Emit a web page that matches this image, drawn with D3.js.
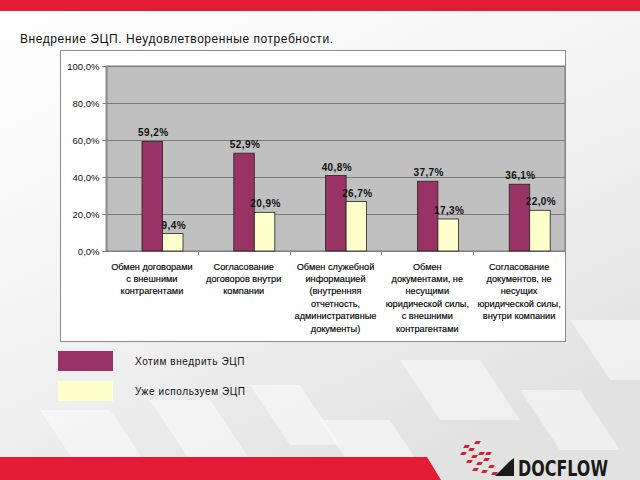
<!DOCTYPE html>
<html>
<head>
<meta charset="utf-8">
<script src="https://cdn.jsdelivr.net/npm/d3@7"></script>
<style>
  html, body { margin: 0; padding: 0; background: #fff; }
  svg { display: block; font-family: "Liberation Sans", Arial, sans-serif; }
</style>
</head>
<body>
<svg id="chart" width="640" height="480"></svg>
<script>
// chart data
const categories = [
  ["Обмен договорами", "с внешними", "контрагентами"],
  ["Согласование", "договоров внутри", "компании"],
  ["Обмен служебной", "информацией", "(внутренняя", "отчетность,", "административные", "документы)"],
  ["Обмен", "документами, не", "несущими", "юридической силы,", "с внешними", "контрагентами"],
  ["Согласование", "документов, не", "несущих", "юридической силы,", "внутри компании"]
];
const seriesNames = ["Хотим внедрить ЭЦП", "Уже используем ЭЦП"];
const seriesColors = ["#993366", "#ffffcc"];
const wantValues = [59.2, 52.9, 40.8, 37.7, 36.1];
const useValues = [9.4, 20.9, 26.7, 17.3, 22.0];
const yTicks = [0, 20, 40, 60, 80, 100];

const svg = d3.select("#chart");

// slide background
const defs = svg.append("defs");
const bg = defs.append("linearGradient").attr("id", "bg")
  .attr("x1", "0").attr("y1", "0").attr("x2", "0.6").attr("y2", "1");
bg.append("stop").attr("offset", "0").attr("stop-color", "#ffffff");
bg.append("stop").attr("offset", "0.5").attr("stop-color", "#f4f4f4");
bg.append("stop").attr("offset", "1").attr("stop-color", "#e2e2e2");
svg.append("rect").attr("width", 640).attr("height", 480).attr("fill", "url(#bg)");

// light diagonal stripes in the lower part
const stripes = [[40, 410, 70], [150, 400, 60], [250, 385, 50], [320, 420, 70], [400, 360, 80], [520, 390, 60], [570, 320, 70]];
stripes.forEach(function(s){
  svg.append("path")
    .attr("d", "M" + s[0] + "," + s[1] + " l" + s[2] + ",0 l40,60 l-" + s[2] + ",0 z")
    .attr("fill", "#ffffff").attr("opacity", 0.45);
});

// red bands
svg.append("rect").attr("x", 0).attr("y", 0).attr("width", 640).attr("height", 11).attr("fill", "#e31b35");
svg.append("path").attr("d", "M0,457 L427,457 L441,480 L0,480 Z").attr("fill", "#e31b35");

// title
svg.append("text")
  .attr("x", 20).attr("y", 43)
  .attr("font-size", 12)
  .attr("textLength", 313).attr("lengthAdjust", "spacing")
  .attr("fill", "#111")
  .text("Внедрение ЭЦП. Неудовлетворенные потребности.");

// chart box
svg.append("rect")
  .attr("x", 60.5).attr("y", 50.5).attr("width", 505).attr("height", 291)
  .attr("fill", "#ffffff").attr("stroke", "#8c8c8c");

const plot = {left: 106, right: 565, top: 66, bottom: 251};

const y = d3.scaleLinear().domain([0, 100]).range([plot.bottom, plot.top]);
const x0 = d3.scaleBand().domain(d3.range(categories.length)).range([plot.left, plot.right]);
const x1 = d3.scaleBand().domain(seriesNames).range([36, 77]);

svg.append("rect")
  .attr("x", plot.left).attr("y", plot.top)
  .attr("width", plot.right - plot.left).attr("height", plot.bottom - plot.top)
  .attr("fill", "#c0c0c0").attr("stroke", "#808080");

// gridlines
svg.append("g").selectAll("line").data(yTicks.slice(1))
  .join("line")
  .attr("x1", plot.left).attr("x2", plot.right)
  .attr("y1", d => Math.round(y(d)) + 0.5).attr("y2", d => Math.round(y(d)) + 0.5)
  .attr("stroke", "#7a7a7a");

// y axis
const yAxis = svg.append("g")
  .attr("transform", "translate(" + (plot.left + 0.5) + ",0)")
  .call(d3.axisLeft(y).tickValues(yTicks).tickSize(4).tickPadding(3)
    .tickFormat(d => d.toFixed(1).replace(".", ",") + "%"));
yAxis.select(".domain").attr("stroke", "#808080");
yAxis.selectAll(".tick line").attr("stroke", "#808080");
yAxis.selectAll("text").attr("font-size", 9.5).attr("fill", "#111")
  .attr("font-family", "Liberation Sans, Arial, sans-serif");

// x axis baseline and tick marks between categories
svg.append("line")
  .attr("x1", plot.left).attr("x2", plot.right)
  .attr("y1", plot.bottom + 0.5).attr("y2", plot.bottom + 0.5)
  .attr("stroke", "#808080");
svg.append("g").selectAll("line").data(d3.range(1, categories.length + 1))
  .join("line")
  .attr("x1", d => Math.round(plot.left + d * x0.step()) + 0.5)
  .attr("x2", d => Math.round(plot.left + d * x0.step()) + 0.5)
  .attr("y1", plot.bottom).attr("y2", plot.bottom + 4)
  .attr("stroke", "#808080");

// bars
const rows = seriesNames.map((name, s) => ({
  name: name,
  color: seriesColors[s],
  values: s === 0 ? wantValues : useValues
}));

const groups = svg.append("g").selectAll("g").data(rows).join("g");
groups.selectAll("rect").data(r => r.values.map((v, i) => ({v: v, i: i, r: r})))
  .join("rect")
  .attr("x", d => x0(d.i) + x1(d.r.name))
  .attr("y", d => y(d.v))
  .attr("width", x1.bandwidth())
  .attr("height", d => y(0) - y(d.v))
  .attr("fill", d => d.r.color)
  .attr("stroke", "#222").attr("stroke-width", 0.8);

// value labels
groups.selectAll("text").data(r => r.values.map((v, i) => ({v: v, i: i, r: r})))
  .join("text")
  .attr("x", d => x0(d.i) + x1(d.r.name) + x1.bandwidth() / 2 + 1)
  .attr("y", d => y(d.v) - 5)
  .attr("text-anchor", "middle")
  .attr("font-size", 10).attr("font-weight", "bold")
  .attr("letter-spacing", 0.4)
  .attr("fill", "#111")
  .text(d => d.v.toFixed(1).replace(".", ",") + "%");

// category labels
svg.append("g").selectAll("text").data(categories)
  .join("text")
  .attr("text-anchor", "middle")
  .attr("font-size", 9.2)
  .attr("fill", "#000")
  .attr("stroke", "#000").attr("stroke-width", 0.15)
  .each(function(lines, i){
    d3.select(this).selectAll("tspan").data(lines).join("tspan")
      .attr("x", x0(i) + x0.bandwidth() / 2)
      .attr("y", (d, k) => 269.5 + k * 12.4)
      .text(d => d);
  });

// legend
const legend = svg.append("g").selectAll("g").data(rows).join("g")
  .attr("transform", (d, i) => "translate(58," + (351 + i * 30) + ")");
legend.append("rect")
  .attr("width", 55).attr("height", 20)
  .attr("fill", d => d.color);
legend.append("text")
  .attr("x", 77).attr("y", 14)
  .attr("font-size", 10)
  .attr("letter-spacing", 0.6)
  .attr("fill", "#111")
  .text(d => d.name);

// DOCFLOW logo
const pixels = [[465, 445], [470, 448], [462, 452], [473, 455], [480, 452], [468, 460],
  [478, 462], [485, 458], [490, 465], [474, 468], [483, 470], [493, 472], [487, 452], [476, 441]];
svg.append("g").selectAll("rect").data(pixels).join("rect")
  .attr("x", d => d[0]).attr("y", d => d[1])
  .attr("width", 5).attr("height", 3)
  .attr("transform", d => "skewX(-30) translate(" + (d[1] * 0.577) + ",0)")
  .attr("fill", "#d4202f");
svg.append("path").attr("d", "M495,476 L510,461 L514,458 L514,476 Z").attr("fill", "#1a1a1a");
svg.append("text")
  .attr("x", 518).attr("y", 476)
  .attr("font-size", 22).attr("font-weight", "bold")
  .attr("font-family", "Liberation Sans Narrow, DejaVu Sans Condensed, sans-serif")
  .attr("textLength", 90).attr("lengthAdjust", "spacingAndGlyphs")
  .attr("fill", "#1a1a1a")
  .text("DOCFLOW");
</script>
</body>
</html>
